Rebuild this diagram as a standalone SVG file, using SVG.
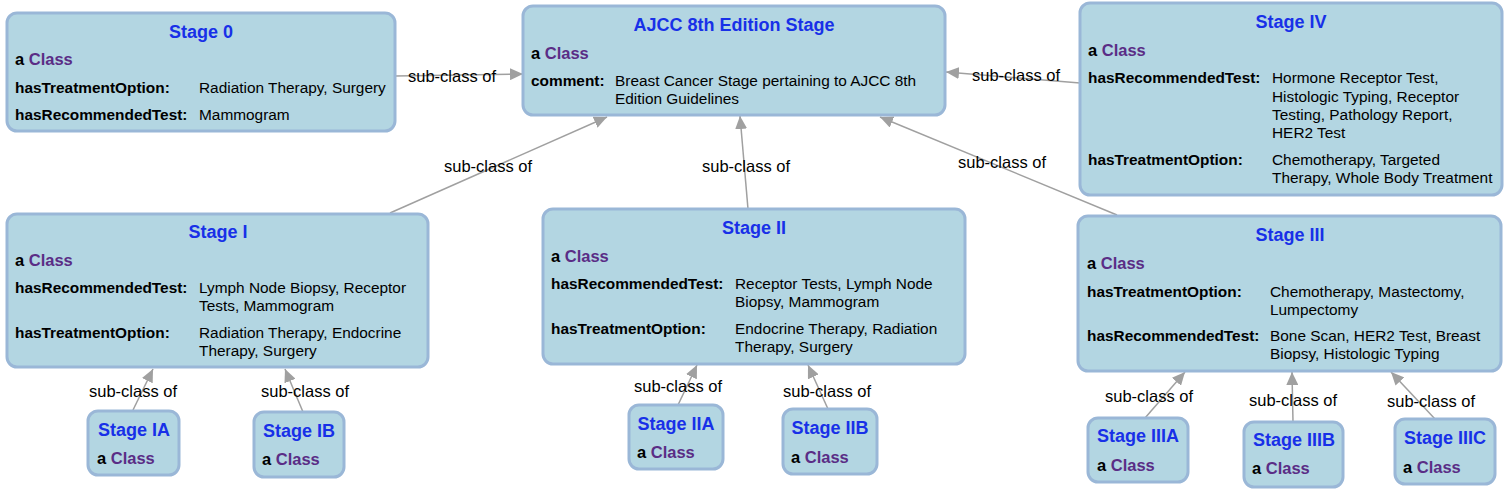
<svg xmlns="http://www.w3.org/2000/svg" width="1508" height="490" viewBox="0 0 1508 490">
<style>
.box{fill:#b3d6e2;stroke:#9ab7d7;stroke-width:3}
.t{font-family:"Liberation Sans",Arial,sans-serif;font-weight:bold;font-size:18px;fill:#1830e8;text-anchor:middle}
.a{font-family:"Liberation Sans",Arial,sans-serif;font-weight:bold;font-size:16.5px;fill:#000}
.c{fill:#5a2d86}
.k{font-family:"Liberation Sans",Arial,sans-serif;font-weight:bold;font-size:15.4px;fill:#000}
.v{font-family:"Liberation Sans",Arial,sans-serif;font-size:15.4px;fill:#000}
.e{fill:none;stroke:#a0a0a0;stroke-width:1.5}
.l{font-family:"Liberation Sans",Arial,sans-serif;font-size:16.5px;fill:#000;text-anchor:middle}
</style>
<defs>
<marker id="arr" markerUnits="userSpaceOnUse" markerWidth="14" markerHeight="12" refX="13" refY="6" orient="auto">
<path d="M0,0 L13,6 L0,12 Z" fill="#a0a0a0"/>
</marker>
</defs>
<g id="connectors">
<path class="e" d="M395,76 L523,74" marker-end="url(#arr)"/>
<path class="e" d="M1080,83 L946,72" marker-end="url(#arr)"/>
<path class="e" d="M390,213 L607,117" marker-end="url(#arr)"/>
<path class="e" d="M748,209 L740,116" marker-end="url(#arr)"/>
<path class="e" d="M1117,215 L880,117" marker-end="url(#arr)"/>
<path class="e" d="M133,410 L153,369" marker-end="url(#arr)"/>
<path class="e" d="M303,412 L285,369" marker-end="url(#arr)"/>
<path class="e" d="M678,405 L697,365" marker-end="url(#arr)"/>
<path class="e" d="M828,409 L808,365" marker-end="url(#arr)"/>
<path class="e" d="M1145,418 L1185,372" marker-end="url(#arr)"/>
<path class="e" d="M1293,422 L1292,372" marker-end="url(#arr)"/>
<path class="e" d="M1435,419 L1391,372" marker-end="url(#arr)"/>
<text class="l" x="452" y="82">sub-class of</text>
<text class="l" x="1016" y="81">sub-class of</text>
<text class="l" x="488" y="172">sub-class of</text>
<text class="l" x="746" y="172">sub-class of</text>
<text class="l" x="1002" y="168">sub-class of</text>
<text class="l" x="133" y="397">sub-class of</text>
<text class="l" x="305" y="397">sub-class of</text>
<text class="l" x="678" y="392">sub-class of</text>
<text class="l" x="827" y="397">sub-class of</text>
<text class="l" x="1149" y="402">sub-class of</text>
<text class="l" x="1293" y="406">sub-class of</text>
<text class="l" x="1431" y="407">sub-class of</text>
</g>
<g id="stage0">
<rect class="box" x="7" y="13" width="388" height="118" rx="10"/>
<text class="t" x="201" y="38">Stage 0</text>
<text class="a" x="15" y="65">a <tspan class="c">Class</tspan></text>
<text class="k" x="15" y="92.5">hasTreatmentOption:</text>
<text class="v" x="199" y="92.5">Radiation Therapy, Surgery</text>
<text class="k" x="15" y="120">hasRecommendedTest:</text>
<text class="v" x="199" y="120">Mammogram</text>
</g>
<g id="ajcc">
<rect class="box" x="523" y="6" width="422" height="109" rx="10"/>
<text class="t" x="734" y="31">AJCC 8th Edition Stage</text>
<text class="a" x="531" y="59">a <tspan class="c">Class</tspan></text>
<text class="k" x="531" y="86">comment:</text>
<text class="v" x="615" y="86">Breast Cancer Stage pertaining to AJCC 8th</text>
<text class="v" x="615" y="104">Edition Guidelines</text>
</g>
<g id="stageIV">
<rect class="box" x="1080" y="3" width="422" height="192" rx="10"/>
<text class="t" x="1291" y="28">Stage IV</text>
<text class="a" x="1088" y="56">a <tspan class="c">Class</tspan></text>
<text class="k" x="1088" y="83">hasRecommendedTest:</text>
<text class="v" x="1272" y="83">Hormone Receptor Test,</text>
<text class="v" x="1272" y="101.5">Histologic Typing, Receptor</text>
<text class="v" x="1272" y="120">Testing, Pathology Report,</text>
<text class="v" x="1272" y="138">HER2 Test</text>
<text class="k" x="1088" y="165">hasTreatmentOption:</text>
<text class="v" x="1272" y="165">Chemotherapy, Targeted</text>
<text class="v" x="1272" y="183">Therapy, Whole Body Treatment</text>
</g>
<g id="stageI">
<rect class="box" x="7" y="214" width="421" height="153" rx="10"/>
<text class="t" x="218" y="238">Stage I</text>
<text class="a" x="15" y="266">a <tspan class="c">Class</tspan></text>
<text class="k" x="15" y="293">hasRecommendedTest:</text>
<text class="v" x="199" y="293">Lymph Node Biopsy, Receptor</text>
<text class="v" x="199" y="311">Tests, Mammogram</text>
<text class="k" x="15" y="338">hasTreatmentOption:</text>
<text class="v" x="199" y="338">Radiation Therapy, Endocrine</text>
<text class="v" x="199" y="356">Therapy, Surgery</text>
</g>
<g id="stageII">
<rect class="box" x="543" y="209" width="422" height="155" rx="10"/>
<text class="t" x="754" y="234">Stage II</text>
<text class="a" x="551" y="262">a <tspan class="c">Class</tspan></text>
<text class="k" x="551" y="289">hasRecommendedTest:</text>
<text class="v" x="735" y="289">Receptor Tests, Lymph Node</text>
<text class="v" x="735" y="307">Biopsy, Mammogram</text>
<text class="k" x="551" y="334">hasTreatmentOption:</text>
<text class="v" x="735" y="334">Endocrine Therapy, Radiation</text>
<text class="v" x="735" y="352">Therapy, Surgery</text>
</g>
<g id="stageIII">
<rect class="box" x="1078" y="216" width="423" height="155" rx="10"/>
<text class="t" x="1290" y="241">Stage III</text>
<text class="a" x="1087" y="269">a <tspan class="c">Class</tspan></text>
<text class="k" x="1087" y="297">hasTreatmentOption:</text>
<text class="v" x="1270" y="297">Chemotherapy, Mastectomy,</text>
<text class="v" x="1270" y="315">Lumpectomy</text>
<text class="k" x="1087" y="341">hasRecommendedTest:</text>
<text class="v" x="1270" y="341">Bone Scan, HER2 Test, Breast</text>
<text class="v" x="1270" y="359">Biopsy, Histologic Typing</text>
</g>
<g id="stageIA">
<rect class="box" x="88" y="411" width="91" height="64" rx="10"/>
<text class="t" x="134" y="435.5">Stage IA</text>
<text class="a" x="97" y="464">a <tspan class="c">Class</tspan></text>
</g>
<g id="stageIB">
<rect class="box" x="254" y="412" width="90" height="65" rx="10"/>
<text class="t" x="299" y="437">Stage IB</text>
<text class="a" x="262" y="465">a <tspan class="c">Class</tspan></text>
</g>
<g id="stageIIA">
<rect class="box" x="629" y="405" width="94" height="64" rx="10"/>
<text class="t" x="676" y="430">Stage IIA</text>
<text class="a" x="637" y="458">a <tspan class="c">Class</tspan></text>
</g>
<g id="stageIIB">
<rect class="box" x="783" y="409" width="94" height="65" rx="10"/>
<text class="t" x="830" y="434">Stage IIB</text>
<text class="a" x="791" y="463">a <tspan class="c">Class</tspan></text>
</g>
<g id="stageIIIA">
<rect class="box" x="1088" y="418" width="100" height="64" rx="10"/>
<text class="t" x="1138" y="442">Stage IIIA</text>
<text class="a" x="1097" y="471">a <tspan class="c">Class</tspan></text>
</g>
<g id="stageIIIB">
<rect class="box" x="1244" y="422" width="99" height="65" rx="10"/>
<text class="t" x="1294" y="446">Stage IIIB</text>
<text class="a" x="1252" y="474">a <tspan class="c">Class</tspan></text>
</g>
<g id="stageIIIC">
<rect class="box" x="1395" y="419" width="100" height="65" rx="10"/>
<text class="t" x="1445" y="444">Stage IIIC</text>
<text class="a" x="1403" y="473">a <tspan class="c">Class</tspan></text>
</g>
</svg>
